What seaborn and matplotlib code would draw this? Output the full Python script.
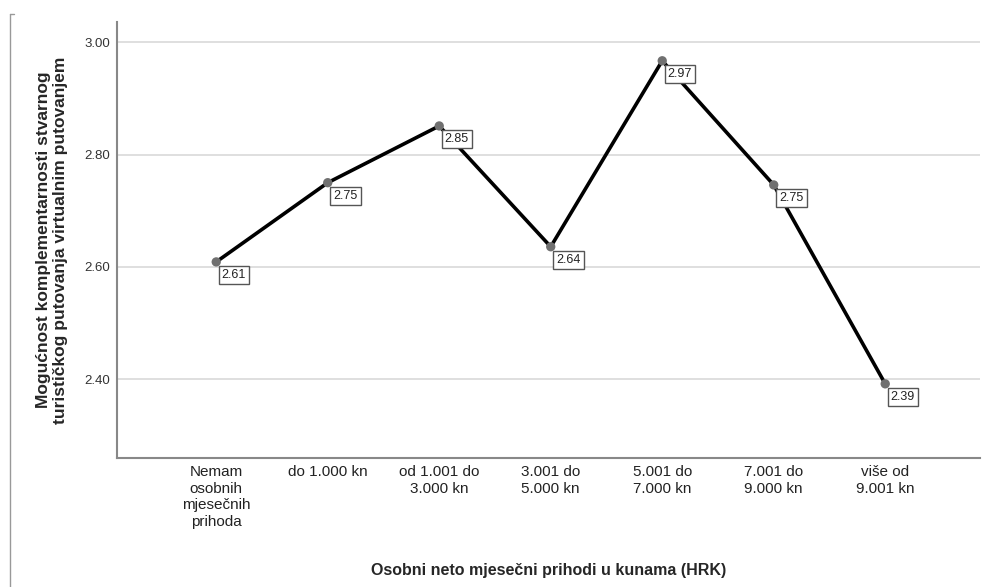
import pandas as pd
import matplotlib.pyplot as plt
import seaborn as sns
from matplotlib.lines import Line2D

# categories and mean values
categories = ['Nemam\nosobnih\nmjesečnih\nprihoda', 'do 1.000 kn', 'od 1.001 do\n3.000 kn',
              '3.001 do\n5.000 kn', '5.001 do\n7.000 kn', '7.001 do\n9.000 kn', 'više od\n9.001 kn']
means = [2.609, 2.750, 2.851, 2.636, 2.967, 2.746, 2.392]
yticks = [2.40, 2.60, 2.80, 3.00]

df = pd.DataFrame({'pos': range(len(categories)), 'mean': means})

sns.set_style('white')
plt.rcParams['font.family'] = ['Liberation Sans', 'DejaVu Sans']

fig = plt.figure(figsize=(9.84, 5.87), dpi=100)
ax = fig.add_axes([117 / 984, 1 - 458 / 587, (980 - 117) / 984, (458 - 22) / 587])

sns.lineplot(data=df, x='pos', y='mean', ax=ax, color='black', linewidth=2.6, zorder=3)
sns.scatterplot(data=df, x='pos', y='mean', ax=ax, color='#707070', s=45,
                edgecolor='none', zorder=4)

# value labels in small boxes
for i in range(df.shape[0]):
    ax.annotate(f"{df['mean'].iloc[i]:.2f}", xy=(df['pos'].iloc[i], df['mean'].iloc[i]),
                xytext=(4, -5), textcoords='offset points', ha='left', va='top',
                fontsize=9, color='#222222', zorder=5,
                bbox=dict(boxstyle='square,pad=0.25', fc='white', ec='#555555', lw=1))

ax.set_xlim(-0.89, 6.85)
ax.set_ylim(2.26, 3.036)
ax.set_xticks(range(len(categories)))
ax.set_xticklabels(categories, fontsize=11, color='#222222', linespacing=1.25)
ax.set_yticks(yticks)
ax.set_yticklabels([f'{t:.2f}' for t in yticks], fontsize=9.5, color='#333333')
ax.tick_params(axis='both', length=0, pad=5)
ax.yaxis.grid(True, color='#d9d9d9', lw=1.2)
ax.set_axisbelow(True)

for s in ['top', 'right']:
    ax.spines[s].set_visible(False)
for s in ['left', 'bottom']:
    ax.spines[s].set_color('#888888')
    ax.spines[s].set_linewidth(1.5)

ax.set_xlabel('Osobni neto mjesečni prihodi u kunama (HRK)', fontsize=11.5,
              fontweight='bold', labelpad=24)
ax.set_ylabel('Mogućnost komplementarnosti stvarnog\nturističkog putovanja virtualnim putovanjem',
              fontsize=12.5, fontweight='bold', labelpad=12, linespacing=1.1)

# outer frame corner of the output panel
fig.add_artist(Line2D([10 / 984, 10 / 984], [0, 1 - 14 / 587], color='#999999', lw=1))
fig.add_artist(Line2D([10 / 984, 14 / 984], [1 - 14 / 587, 1 - 14 / 587], color='#999999', lw=1))

fig.savefig('out.png', dpi=100)
